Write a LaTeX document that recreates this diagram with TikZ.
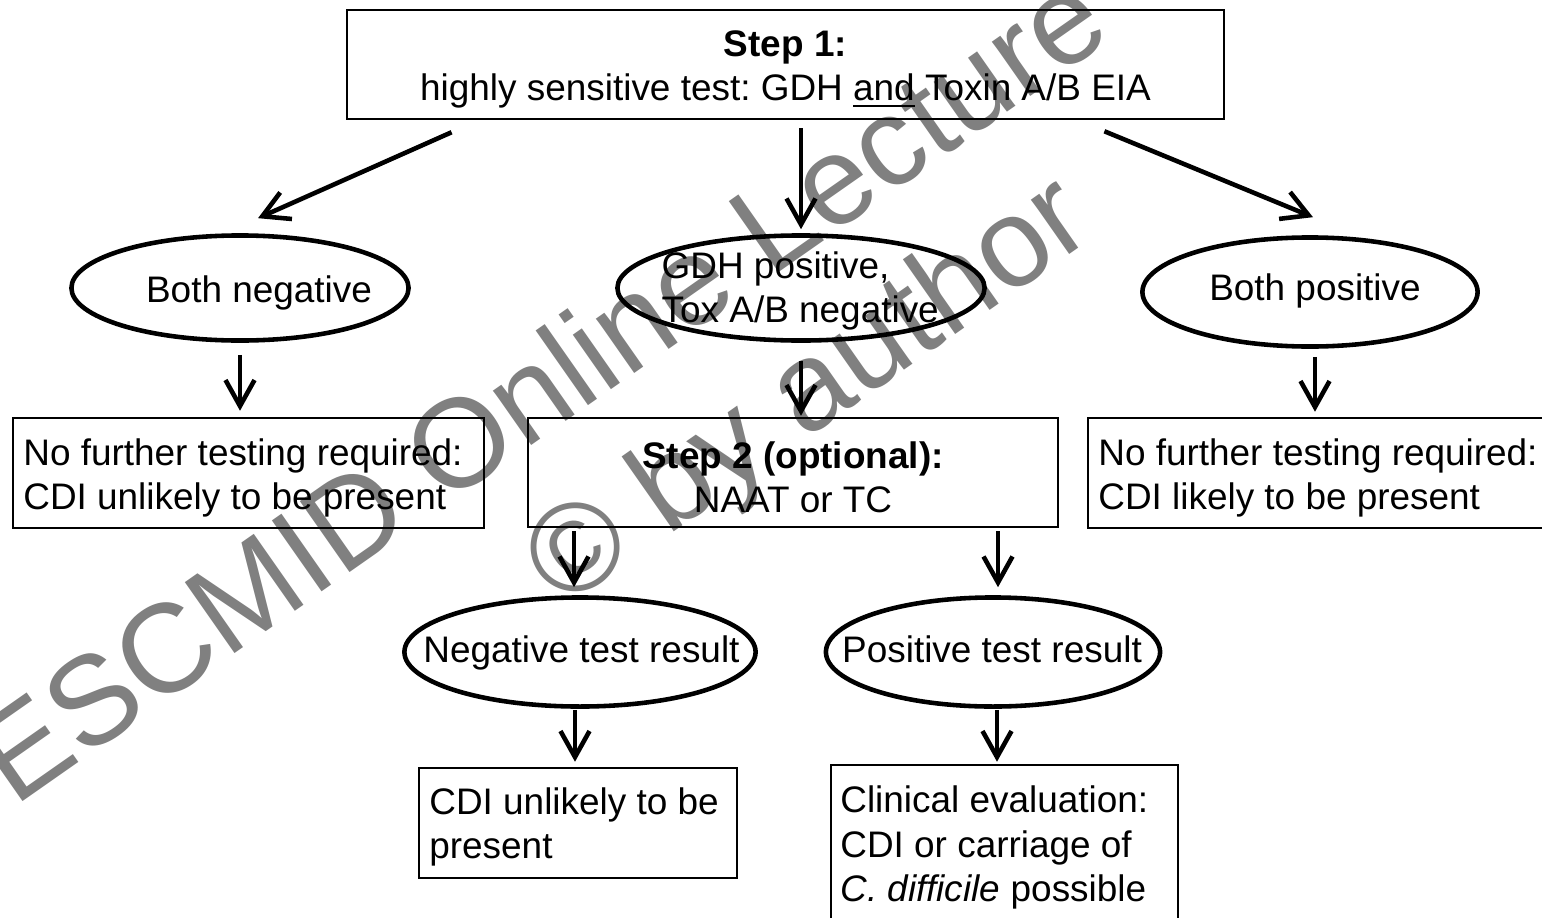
\documentclass[tikz,border=0pt]{standalone}
\usepackage{fontspec}
\setmainfont{Liberation Sans}
\usetikzlibrary{arrows.meta,shapes.geometric}
\frenchspacing

\begin{document}
\begin{tikzpicture}[x=0.01cm, y=-0.01cm,
  every node/.style={font=\fontsize{10.5pt}{12.6pt}\selectfont},
  box/.style={draw, line width=0.7pt, rectangle, inner sep=0pt},
  oval/.style={draw, ellipse, line width=1.3pt, inner sep=0pt},
  txt/.style={align=left, inner sep=0pt},
  ctxt/.style={align=center, inner sep=0pt},
  arr/.style={line width=1.3pt, -{Straight Barb[length=2.6mm, width=2.9mm, line width=1.3pt]}},
  wmark/.style={gray, rotate=35, anchor=base west, inner sep=0pt, font=\fontsize{35.8pt}{40pt}\selectfont}]
\useasboundingbox (0,0) rectangle (1542,918);

% watermark
\draw (14,808) node[wmark](wm1) {ESCMID Online Lecture};
\draw (562,610) node[wmark](wm2) {© by author};

% step 1
\draw (785.5,64.5) node[box, minimum width=87.7mm, minimum height=10.9mm](step1) {};
\draw ([yshift=-0.5mm]step1.center) node[ctxt](step1txt) {\textbf{Step 1:}\\highly sensitive test: GDH \underline{and} Toxin A/B EIA};

% results of step 1
\draw (240,288) node[oval, minimum width=33.7mm, minimum height=10.5mm](bneg) {};
\draw (259,302) node[txt, anchor=base](bnegtxt) {Both negative};
\draw (801,288) node[oval, minimum width=36.7mm, minimum height=10.5mm](gdh) {};
\draw (661,291) node[txt, anchor=west](gdhtxt) {GDH positive,\\Tox A/B negative};
\draw (1310,292) node[oval, minimum width=33.5mm, minimum height=10.9mm](bpos) {};
\draw (1315,300) node[txt, anchor=base](bpostxt) {Both positive};

\draw (248.5,473) node[box, minimum width=47.1mm, minimum height=11mm](nfneg) {};
\draw ([xshift=1.1mm,yshift=-0.5mm]nfneg.west) node[txt, anchor=west](nfnegtxt) {No further testing required:\\CDI unlikely to be present};
\draw (793,472.5) node[box, minimum width=53mm, minimum height=10.9mm](step2) {};
\draw ([yshift=-0.5mm]step2.center) node[ctxt](step2txt) {\textbf{Step 2 (optional):}\\NAAT or TC};
\draw (1323.5,473) node[box, minimum width=47.1mm, minimum height=11mm](nfpos) {};
\draw ([xshift=1.1mm,yshift=-0.5mm]nfpos.west) node[txt, anchor=west](nfpostxt) {No further testing required:\\CDI likely to be present};

% results of step 2
\draw (580,652) node[oval, minimum width=35.1mm, minimum height=10.9mm](negres) {};
\draw (581.5,662) node[txt, anchor=base](negrestxt) {Negative test result};
\draw (993,652) node[oval, minimum width=33.4mm, minimum height=10.9mm](posres) {};
\draw (992,662) node[txt, anchor=base](posrestxt) {Positive test result};

\draw (578,823) node[box, minimum width=31.8mm, minimum height=11mm](cdiun) {};
\draw ([xshift=1.1mm,yshift=-0.4mm]cdiun.west) node[txt, anchor=west](cdiuntxt) {CDI unlikely to be\\present};
\draw (1004.5,844.5) node[box, minimum width=34.7mm, minimum height=15.9mm](clin) {};
\draw ([xshift=1mm,yshift=-0.3mm]clin.west) node[txt, anchor=west](clintxt) {Clinical evaluation:\\CDI or carriage of\\\textit{C. difficile} possible};

% arrows
\draw[arr] ([xshift=10.6mm,yshift=-1.2mm]step1.south west) -- ([xshift=1.8mm,yshift=1.5mm]bneg.north);
\draw[arr, shorten <=0.8mm, shorten >=0.4mm] (gdh.north |- step1.south) -- (gdh.north);
\draw[arr] ([xshift=-12.1mm,yshift=-1.1mm]step1.south east) -- ([xshift=0.3mm,yshift=1.8mm]bpos.north);

\draw[arr, shorten <=1.2mm, shorten >=0.6mm] (bneg.south) -- (bneg.south |- nfneg.north);
\draw[arr, shorten <=1.8mm, shorten >=0.1mm] (gdh.south) -- (gdh.south |- step2.north);
\draw[arr, shorten <=0.8mm, shorten >=0.5mm] ([xshift=0.5mm]bpos.south) -- ([xshift=0.5mm]bpos.south |- nfpos.north);

\draw[arr, shorten <=0.3mm, shorten >=0.8mm] ([xshift=-0.6mm]negres.north |- step2.south) -- ([xshift=-0.6mm]negres.north);
\draw[arr, shorten <=0.3mm, shorten >=0.8mm] ([xshift=0.5mm]posres.north |- step2.south) -- ([xshift=0.5mm]posres.north);

\draw[arr, shorten <=0.1mm, shorten >=0.5mm] ([xshift=-0.5mm]negres.south) -- ([xshift=-0.5mm]negres.south |- cdiun.north);
\draw[arr, shorten <=0.1mm, shorten >=0.2mm] ([xshift=0.4mm]posres.south) -- ([xshift=0.4mm]posres.south |- clin.north);
\end{tikzpicture}
\end{document}
